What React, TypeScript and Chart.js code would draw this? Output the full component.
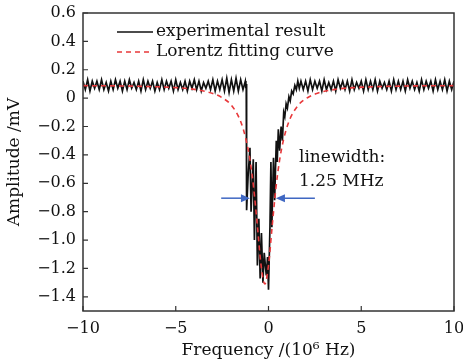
import { useEffect, useRef } from "react";
import { Chart, registerables } from "chart.js";

Chart.register(...registerables);

// ---- data ----
const X_TICKS = [-10, -5, 0, 5, 10];
const Y_TICKS = [-1.4, -1.2, -1.0, -0.8, -0.6, -0.4, -0.2, 0, 0.2, 0.4, 0.6];

const GRID_STEP = 0.125;
const LEFT_START = -10;
const RIGHT_START = 1.75;

const leftBaseline = [
  0.12, 0.06, 0.13, 0.05, 0.12, 0.07, 0.12, 0.06, 0.13, 0.06,
  0.11, 0.05, 0.12, 0.06, 0.13, 0.07, 0.12, 0.05, 0.12, 0.06,
  0.13, 0.07, 0.11, 0.06, 0.12, 0.05, 0.13, 0.06, 0.12, 0.07,
  0.12, 0.05, 0.11, 0.06, 0.13, 0.06, 0.12, 0.07, 0.12, 0.05,
  0.13, 0.06, 0.11, 0.06, 0.12, 0.05, 0.12, 0.07, 0.13, 0.06,
  0.12, 0.05, 0.11, 0.07, 0.12, 0.06, 0.13, 0.05, 0.12, 0.06,
  0.13, 0.05, 0.14, 0.04, 0.13, 0.05, 0.14, 0.05, 0.13, 0.06,
  0.12,
];

const dipX = [
  -1.22, -1.2, -1.18, -1.1, -1.0, -0.94, -0.82, -0.76, -0.67, -0.6,
  -0.52, -0.45, -0.38, -0.3, -0.23, -0.12, -0.05, 0.0, 0.08, 0.13,
  0.18, 0.27, 0.33, 0.42, 0.47, 0.53, 0.6, 0.68, 0.75, 0.82,
  0.88, 0.95, 1.02, 1.1, 1.17, 1.25, 1.33, 1.42, 1.5, 1.58, 1.66,
];
const dipY = [
  0.07, 0.1, -0.79, -0.55, -0.35, -0.8, -0.43, -1.0, -0.45, -1.18,
  -0.85, -1.27, -0.95, -1.3, -1.09, -1.25, -1.12, -1.35, -0.9, -0.45,
  -0.91, -0.42, -0.72, -0.3, -0.45, -0.22, -0.37, -0.2, -0.3, -0.1,
  -0.13, -0.04, -0.07, 0.01, -0.02, 0.05, 0.03, 0.09, 0.06, 0.12, 0.07,
];

const rightBaseline = [
  0.12, 0.06, 0.12, 0.05, 0.13, 0.06, 0.12, 0.07, 0.12, 0.05,
  0.13, 0.06, 0.11, 0.06, 0.12, 0.05, 0.13, 0.07, 0.12, 0.06,
  0.12, 0.05, 0.13, 0.06, 0.11, 0.07, 0.12, 0.05, 0.13, 0.06,
  0.12, 0.06, 0.13, 0.05, 0.12, 0.07, 0.11, 0.06, 0.12, 0.05,
  0.13, 0.06, 0.12, 0.06, 0.12, 0.05, 0.13, 0.07, 0.12, 0.06,
  0.11, 0.05, 0.13, 0.06, 0.12, 0.07, 0.12, 0.05, 0.13, 0.06,
  0.12, 0.06, 0.13, 0.05, 0.12, 0.06, 0.12,
];

const fitX = [
  -10, -8, -6, -5, -4, -3, -2.5, -2, -1.5, -1.2, -1.0, -0.8, -0.6, -0.4,
  -0.2, 0, 0.2, 0.4, 0.6, 0.8, 1.1, 1.6, 2.1, 2.6, 3.6, 4.6, 5.6, 7.6, 10,
];
const fitY = [
  0.088, 0.086, 0.08, 0.074, 0.062, 0.033, 0.003, -0.05, -0.165, -0.299,
  -0.435, -0.633, -0.899, -1.178, -1.31, -1.178, -0.899, -0.633, -0.435, -0.299,
  -0.165, -0.05, 0.003, 0.033, 0.062, 0.074, 0.08, 0.086, 0.088,
];

const LEGEND_LABELS = ["experimental result", "Lorentz fitting curve"];
const NOTE_LINES = ["linewidth:", "1.25 MHz"];
const ARROW_Y = -0.705;
const ARROW_LEFT = [-2.55, -1.0];
const ARROW_RIGHT = [2.5, 0.4];

const FONT = '"DejaVu Serif", serif';
const BLACK = "#111111";
const RED = "#e8383a";
const BLUE = "#3f67c2";

function buildExperimental() {
  const pts: { x: number; y: number }[] = [];
  leftBaseline.forEach((y, i) => pts.push({ x: LEFT_START + i * GRID_STEP, y }));
  dipX.forEach((x, i) => pts.push({ x, y: dipY[i] }));
  rightBaseline.forEach((y, i) => pts.push({ x: RIGHT_START + i * GRID_STEP, y }));
  return pts;
}

const decorPlugin = {
  id: "decor",
  afterDraw(chart: any) {
    const ctx = chart.ctx;
    const { left, right, top, bottom } = chart.chartArea;
    const xs = chart.scales.x;
    const ys = chart.scales.y;
    ctx.save();
    // frame
    ctx.strokeStyle = "#333";
    ctx.lineWidth = 1.5;
    ctx.strokeRect(left, top, right - left, bottom - top);
    // inward ticks
    ctx.lineWidth = 1.2;
    ctx.beginPath();
    X_TICKS.forEach((v) => {
      const px = xs.getPixelForValue(v);
      ctx.moveTo(px, bottom);
      ctx.lineTo(px, bottom - 5);
    });
    Y_TICKS.forEach((v) => {
      const py = ys.getPixelForValue(v);
      ctx.moveTo(left, py);
      ctx.lineTo(left + 5, py);
    });
    ctx.stroke();

    // legend
    ctx.font = `17px ${FONT}`;
    ctx.textBaseline = "middle";
    ctx.textAlign = "left";
    const lx0 = 117, lx1 = 153, ly0 = 32, ly1 = 52;
    ctx.lineWidth = 1.6;
    ctx.strokeStyle = BLACK;
    ctx.setLineDash([]);
    ctx.beginPath();
    ctx.moveTo(lx0, ly0);
    ctx.lineTo(lx1, ly0);
    ctx.stroke();
    ctx.strokeStyle = RED;
    ctx.setLineDash([5, 4]);
    ctx.beginPath();
    ctx.moveTo(lx0, ly1);
    ctx.lineTo(lx1, ly1);
    ctx.stroke();
    ctx.setLineDash([]);
    ctx.fillStyle = BLACK;
    ctx.fillText(LEGEND_LABELS[0], 156, ly0);
    ctx.fillText(LEGEND_LABELS[1], 156, ly1);

    // annotation text
    ctx.fillText(NOTE_LINES[0], 299, 158);
    ctx.fillText(NOTE_LINES[1], 299, 182);

    // arrows
    const ay = ys.getPixelForValue(ARROW_Y);
    const drawArrow = (fromV: number, toV: number) => {
      const x0 = xs.getPixelForValue(fromV);
      const x1 = xs.getPixelForValue(toV);
      const dir = Math.sign(x1 - x0);
      ctx.strokeStyle = BLUE;
      ctx.fillStyle = BLUE;
      ctx.lineWidth = 1.5;
      ctx.beginPath();
      ctx.moveTo(x0, ay);
      ctx.lineTo(x1 - dir * 6, ay);
      ctx.stroke();
      ctx.beginPath();
      ctx.moveTo(x1, ay);
      ctx.lineTo(x1 - dir * 9, ay - 4);
      ctx.lineTo(x1 - dir * 9, ay + 4);
      ctx.closePath();
      ctx.fill();
    };
    drawArrow(ARROW_LEFT[0], ARROW_LEFT[1]);
    drawArrow(ARROW_RIGHT[0], ARROW_RIGHT[1]);
    ctx.restore();
  },
};

const fmtY = (v: number) => (Math.abs(v) < 1e-9 ? "0" : (v < 0 ? "\u2212" : "") + Math.abs(v).toFixed(1));
const fmtX = (v: number) => (v < 0 ? "\u2212" + Math.abs(v) : String(v));

export default function App() {
  const ref = useRef<HTMLCanvasElement | null>(null);
  useEffect(() => {
    document.body.style.margin = "0";
    const canvas = ref.current;
    if (!canvas) return;
    const chart = new Chart(canvas, {
      type: "line",
      data: {
        datasets: [
          {
            label: LEGEND_LABELS[1],
            data: fitX.map((x, i) => ({ x, y: fitY[i] })),
            borderColor: RED,
            borderWidth: 1.6,
            borderDash: [5, 4],
            pointRadius: 0,
            cubicInterpolationMode: "monotone",
            order: 0,
          },
          {
            label: LEGEND_LABELS[0],
            data: buildExperimental(),
            borderColor: BLACK,
            borderWidth: 1.7,
            pointRadius: 0,
            tension: 0,
            order: 1,
          },
        ],
      },
      options: {
        animation: false,
        responsive: true,
        maintainAspectRatio: false,
        layout: { padding: { top: 13, right: 9, left: 0, bottom: 0 } },
        plugins: { legend: { display: false }, tooltip: { enabled: false } },
        scales: {
          x: {
            type: "linear",
            min: -10,
            max: 10,
            grid: { display: false, drawTicks: false },
            border: { display: false },
            afterBuildTicks: (s: any) => {
              s.ticks = X_TICKS.map((v) => ({ value: v }));
            },
            afterFit: (s: any) => {
              s.height = 53;
              s.paddingLeft = 0;
              s.paddingRight = 0;
            },
            ticks: {
              padding: 8,
              color: BLACK,
              font: { family: FONT, size: 16 },
              callback: (v: any) => fmtX(Number(v)),
              maxRotation: 0,
            },
            title: {
              display: true,
              text: "Frequency /(10\u2076 Hz)",
              color: BLACK,
              font: { family: FONT, size: 17 },
              padding: { top: 0, bottom: 3 },
            },
          },
          y: {
            type: "linear",
            min: -1.5,
            max: 0.6,
            grid: { display: false, drawTicks: false },
            border: { display: false },
            afterBuildTicks: (s: any) => {
              s.ticks = Y_TICKS.map((v) => ({ value: v }));
            },
            afterFit: (s: any) => {
              s.width = 83;
              s.paddingTop = 0;
              s.paddingBottom = 0;
            },
            ticks: {
              padding: 7,
              color: BLACK,
              font: { family: FONT, size: 16 },
              callback: (v: any) => fmtY(Number(v)),
            },
            title: {
              display: true,
              text: "Amplitude /mV",
              color: BLACK,
              font: { family: FONT, size: 17 },
              padding: { top: 4, bottom: 0 },
            },
          },
        },
      },
      plugins: [decorPlugin],
    } as any);
    return () => chart.destroy();
  }, []);
  return (
    <div style={{ width: 463, height: 364, position: "relative" }}>
      <canvas ref={ref} />
    </div>
  );
}
